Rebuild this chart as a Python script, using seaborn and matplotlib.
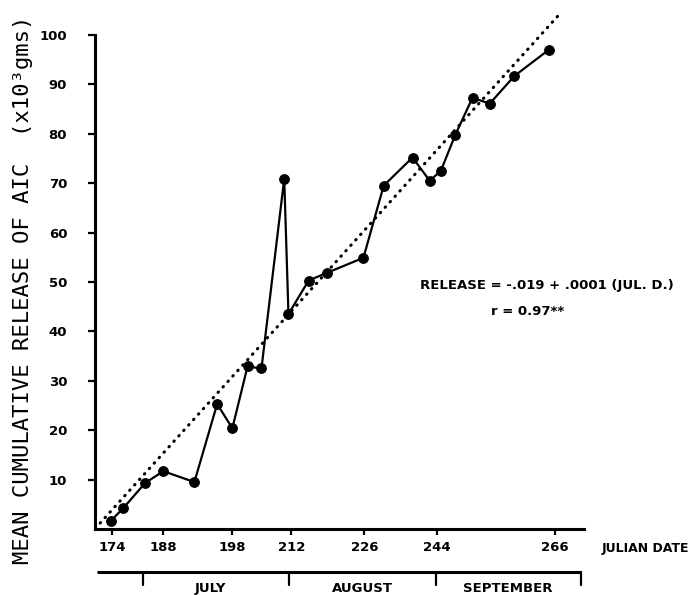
import numpy as np
import matplotlib
matplotlib.use("Agg")
import matplotlib.pyplot as plt
import seaborn as sns

# Julian date of each sample and the mean cumulative release (x10^3 gms)
days = [173.7, 177, 183, 188, 192.5, 195.8, 198, 201.6, 204.9, 210.3, 211.3,
        215.3, 218.9, 225.8, 230.8, 238, 242.3, 244.8, 247.5, 250.7, 253.9,
        258.5, 264.9]
release = [1.7, 4.2, 9.3, 11.7, 9.5, 25.3, 20.4, 32.9, 32.5, 70.9, 43.5,
           50.3, 51.9, 54.9, 69.5, 75.2, 70.5, 72.5, 79.8, 87.3, 86.1,
           91.7, 97.0]

# fitted regression line, end points
fit_days = [170.7, 266.9]
fit_vals = [1.2, 104.2]

x_ticks = [174, 188, 198, 212, 226, 244, 266]
y_ticks = [10, 20, 30, 40, 50, 60, 70, 80, 90, 100]

months = ["JULY", "AUGUST", "SEPTEMBER"]
month_edges = [182.5, 211.5, 243.8, 271]

# the original axis is drawn unevenly: tick spacing is not proportional to days
knot_days = [168, 174, 188, 198, 212, 226, 244, 266, 272]
knot_pos = [-22, 0, 51, 120, 179, 252, 324, 442, 474]


def fwd(d):
    return np.interp(d, knot_days, knot_pos)


def inv(p):
    return np.interp(p, knot_pos, knot_days)


sns.set_style("white")
plt.rcParams.update({"text.color": "black", "axes.labelcolor": "black",
                     "xtick.color": "black", "ytick.color": "black"})
bold = dict(family=["Liberation Sans Narrow", "DejaVu Sans"], weight="bold")

fig = plt.figure(figsize=(6.93, 5.95), dpi=100)
ax = fig.add_axes([95 / 693, 1 - 529 / 595, 489 / 693, 494 / 595])

sns.lineplot(x=days, y=release, ax=ax, color="black", lw=1.6,
             marker="o", markersize=7, markeredgecolor="black", sort=False)
sns.lineplot(x=fit_days, y=fit_vals, ax=ax, color="black", lw=2.2,
             linestyle=(0, (0.2, 2.2)), dash_capstyle="round", clip_on=False)

ax.set_xscale("function", functions=(fwd, inv))
ax.set_xlim(169.3, 271.5)
ax.set_ylim(0, 100)
ax.set_xticks(x_ticks)
ax.set_yticks(y_ticks)
ax.set_xticklabels([str(t) for t in x_ticks], fontsize=9.5, **bold)
ax.set_yticklabels([str(t) for t in y_ticks], fontsize=9.5, **bold)
ax.minorticks_off()

for side in ["top", "right"]:
    ax.spines[side].set_visible(False)
for side in ["left", "bottom"]:
    ax.spines[side].set_linewidth(2.2)
    ax.spines[side].set_color("black")
ax.tick_params(axis="y", direction="out", length=5, width=1.6, pad=15, left=True)
ax.tick_params(axis="x", direction="out", length=4.5, width=1.6, pad=4, bottom=True)

ax.set_ylabel("MEAN CUMULATIVE RELEASE OF AIC  (x10³gms)",
              family="DejaVu Sans Mono", fontsize=16, va="center")
ax.yaxis.set_label_coords(-0.147, 0.485)

ax.text(1.215, -0.04, "JULIAN DATE", transform=ax.transAxes,
        ha="right", va="center", fontsize=9, **bold)

ax.text(0.924, 0.492, "RELEASE = -.019 + .0001 (JUL. D.)", transform=ax.transAxes,
        ha="center", va="center", fontsize=9.5, **bold)
ax.text(0.885, 0.441, "r = 0.97**", transform=ax.transAxes,
        ha="center", va="center", fontsize=9.5, **bold)

# month bar under the date axis
tr = ax.get_xaxis_transform()
bar_y = -0.087
ax.plot([169.8, month_edges[-1]], [bar_y, bar_y], transform=tr, color="black",
        lw=2.2, clip_on=False, solid_capstyle="butt")
for e in month_edges:
    ax.plot([e, e], [bar_y, -0.113], transform=tr, color="black", lw=1.6,
            clip_on=False)
month_label_days = [194.8, 225.6, 257.2]
for name, d in zip(months, month_label_days):
    ax.text(d, -0.121, name, transform=tr, ha="center", va="center",
            fontsize=9.5, **bold)

fig.savefig("out.png", dpi=100)
